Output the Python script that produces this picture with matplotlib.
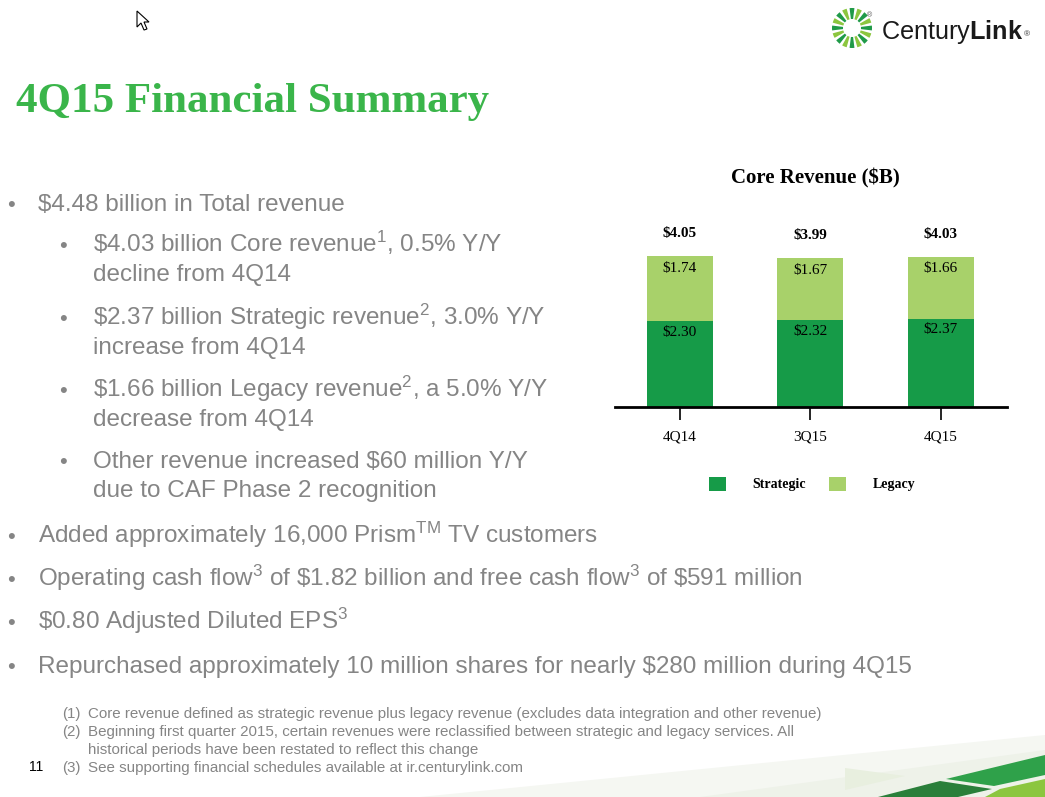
import matplotlib.pyplot as plt
import numpy as np
from matplotlib.patches import Polygon, Wedge

W, H = 1045, 797

# chart data
quarters = ['4Q14', '3Q15', '4Q15']
strategic = [2.30, 2.32, 2.37]
legacy = [1.74, 1.67, 1.66]
totals = [4.05, 3.99, 4.03]

STRAT = '#169b48'
LEG = '#a8d16a'
GRAY = '#858585'
GREEN = '#3ab54a'

plt.rcParams['mathtext.fontset'] = 'custom'
plt.rcParams['mathtext.rm'] = 'Liberation Sans'
plt.rcParams['mathtext.it'] = 'Liberation Sans'
plt.rcParams['mathtext.bf'] = 'Liberation Sans:bold'

fig = plt.figure(figsize=(W / 100, H / 100), dpi=100)


def fx(x):
    return x / W


def fy(y):
    return 1 - y / H


def poly(pts, **kw):
    fig.add_artist(Polygon([(fx(a), fy(b)) for a, b in pts], closed=True,
                           transform=fig.transFigure, **kw))


# slide title
fig.text(fx(16), fy(112), '4Q15 Financial Summary', family='Liberation Serif',
         weight='bold', size=31, color=GREEN, va='baseline')

# bullet text (level, baseline, text, has bullet)
lines = [
    (0, 211, r'\$4.48 billion in Total revenue', True),
    (1, 252, r'\$4.03 billion Core revenue$^{1}$, 0.5% Y/Y', True),
    (1, 281, 'decline from 4Q14', False),
    (1, 325, r'\$2.37 billion Strategic revenue$^{2}$, 3.0% Y/Y', True),
    (1, 354, 'increase from 4Q14', False),
    (1, 397, r'\$1.66 billion Legacy revenue$^{2}$, a 5.0% Y/Y', True),
    (1, 426, 'decrease from 4Q14', False),
    (1, 468, r'Other revenue increased \$60 million Y/Y', True),
    (1, 497, 'due to CAF Phase 2 recognition', False),
    (0, 543, r'Added approximately 16,000 Prism$^{\mathrm{TM}}$ TV customers', True),
    (0, 586, r'Operating cash flow$^{3}$ of \$1.82 billion and free cash flow$^{3}$ of \$591 million', True),
    (0, 629, r'\$0.80 Adjusted Diluted EPS$^{3}$', True),
    (0, 673, r'Repurchased approximately 10 million shares for nearly \$280 million during 4Q15', True),
]
for lvl, base, txt, dot in lines:
    bx, tx = (7, 38) if lvl == 0 else (59, 93)
    if dot:
        fig.text(fx(bx), fy(base), '\u2022', family='Liberation Sans', size=16,
                 color=GRAY, va='baseline')
    fig.text(fx(tx), fy(base), txt, family='Liberation Sans', size=17.5,
             color=GRAY, va='baseline')

# footnotes
notes = [
    (718, '(1)', 'Core revenue defined as strategic revenue plus legacy revenue (excludes data integration and other revenue)'),
    (736, '(2)', 'Beginning first quarter 2015, certain revenues were reclassified between strategic and legacy services. All'),
    (754, '', 'historical periods have been restated to reflect this change'),
    (772, '(3)', 'See supporting financial schedules available at ir.centurylink.com'),
]
for base, num, txt in notes:
    if num:
        fig.text(fx(62), fy(base), num, family='Liberation Sans', size=10.9,
                 color=GRAY, va='baseline')
    fig.text(fx(88), fy(base), txt, family='Liberation Sans', size=10.9,
             color=GRAY, va='baseline')
fig.text(fx(29), fy(771), '11', family='Liberation Sans', size=10, color='black',
         va='baseline')

# bottom right decoration
poly([(420, 797), (1045, 735), (1045, 797)], color='#f5f7f2', lw=0)
poly([(700, 797), (1045, 750), (1045, 797)], color='#eef2e9', lw=0)
poly([(845, 768), (905, 776), (845, 790)], color='#e8efdf', lw=0)
poly([(878, 797), (940, 781), (992, 789), (958, 797)], color='#2a7f3a', lw=0)
poly([(946, 779), (1045, 755), (1045, 775), (994, 786)], color='#2fa14a', lw=0)
poly([(1000, 789), (1045, 779), (1045, 797), (985, 797)], color='#8cc63f', lw=0)

# cursor
poly([(137, 11), (137, 27), (141, 23), (144, 30), (147, 29), (144, 22), (149, 22)],
     facecolor='white', edgecolor='black', lw=0.8)

# logo
lax = fig.add_axes([fx(830), fy(50), 44 / W, 44 / H])
lax.set_xlim(-22, 22)
lax.set_ylim(-22, 22)
lax.axis('off')
n = 16
for k in range(n):
    a = 90 + k * 360 / n
    c = '#1f9a48' if k % 2 == 0 else '#8cc63f'
    lax.add_patch(Wedge((0, 0), 20, a - 7, a + 7, width=11, color=c, lw=0))
fig.text(fx(881), fy(39), r'Century$\mathbf{Link}$', family='Liberation Sans',
         size=18.2, color='#1a1a1a', va='baseline')
fig.text(fx(1024), fy(36), '\u00ae', family='Liberation Sans', size=6, color='#333333',
         va='baseline')
fig.text(fx(867), fy(17), '\u00ae', family='Liberation Sans', size=5, color='#555555',
         va='baseline')

# core revenue chart
ax = fig.add_axes([fx(615), fy(407), (1007 - 615) / W, (407 - 220) / H])
x = np.arange(len(quarters))
bw = 0.506
ax.bar(x, strategic, bw, color=STRAT, label='Strategic')
ax.bar(x, legacy, bw, bottom=strategic, color=LEG, label='Legacy')
ax.set_xlim(-0.498, 2.506)
ax.set_ylim(0, 5.01)
for s in ['top', 'right', 'left']:
    ax.spines[s].set_visible(False)
ax.spines['bottom'].set_linewidth(2)
ax.set_yticks([])
ax.set_xticks(x)
ax.set_xticklabels(quarters, family='Liberation Serif', size=11)
ax.tick_params(axis='x', direction='out', length=9, width=1.2, pad=8)
serif = dict(family='Liberation Serif', size=11, ha='center', va='center')
for i in x:
    ax.text(i, strategic[i] - 0.3, '$%.2f' % strategic[i], **serif)
    ax.text(i, strategic[i] + legacy[i] - 0.32, '$%.2f' % legacy[i], **serif)
    ax.text(i, totals[i] + 0.6, '$%.2f' % totals[i], weight='bold', **serif)
fig.text(fx(815), fy(178), 'Core Revenue ($B)', family='Liberation Serif', weight='bold',
         size=15, ha='center', va='center')
ax.legend(loc='center', bbox_to_anchor=(fx(812), fy(484)), bbox_transform=fig.transFigure,
          ncol=2, frameon=False, handlelength=1.2, handleheight=1.2, handletextpad=1.9,
          columnspacing=1.7, prop=dict(family='Liberation Serif', weight='bold', size=10))

fig.savefig('out.png', dpi=100)
